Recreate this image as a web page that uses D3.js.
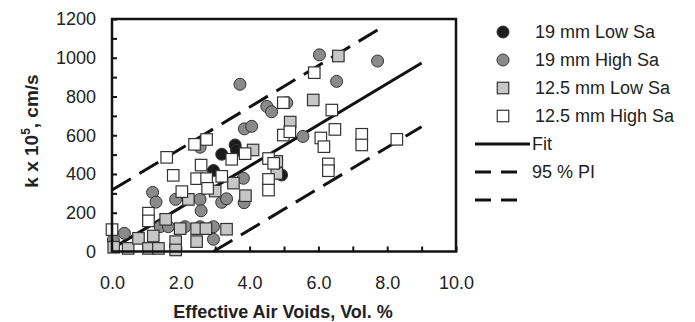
<!DOCTYPE html>
<html>
<head>
<meta charset="utf-8">
<script src="https://cdn.jsdelivr.net/npm/d3@7"></script>
<style>
  body { margin: 0; background: #fff; }
  svg { display: block; font-family: Arial, "Liberation Sans", sans-serif; }
  .tick text { font-size: 18px; fill: #222; }
</style>
</head>
<body>
<svg width="695" height="322"></svg>
<script>
// [air voids %, k x 1e5 cm/s]
const low19 = [[3.58,550],[3.62,522],[3.19,502],[4.93,395],[2.95,418]];
const high19 = [[0.04,59],[0.36,94],[1.18,305],[1.28,255],[1.4,128],[1.64,128],[1.85,269],[2.12,128],
  [2.56,269],[2.59,210],[2.56,128],[2.56,538],[2.95,128],[2.95,63],[3.19,254],[3.33,272],
  [3.72,863],[3.82,378],[3.84,252],[3.85,633],[4.06,646],[4.5,749],[4.64,721],[5.08,768],
  [5.55,594],[6.03,1015],[6.53,878],[7.72,983]];
const low125 = [[0.05,22],[0.47,16],[0.77,68],[1.06,16],[1.2,80],[1.35,16],[1.56,166],[1.85,51],
  [1.85,8],[1.98,118],[2.22,269],[2.46,118],[2.46,51],[2.73,118],[3.0,312],[3.33,115],
  [3.53,353],[3.88,288],[4.1,524],[4.79,465],[4.79,403],[5.18,668],[5.85,782],[6.58,1009]];
const high125 = [[0.0,113],[1.06,198],[1.06,158],[1.59,486],[1.78,393],[2.03,309],[2.4,553],
  [2.46,376],[2.59,446],[2.75,578],[2.75,376],[2.78,326],[3.19,388],[3.48,476],[3.87,505],
  [4.55,480],[4.7,455],[4.55,372],[4.55,317],[4.98,768],[4.98,601],[5.17,618],[5.88,923],
  [6.07,586],[6.16,541],[6.29,452],[6.29,417],[6.39,730],[6.48,630],[7.26,605],[7.26,550],
  [8.28,579]];

const fitLine = [[0,15],[9,973]];
const upperPI = [[0,317],[7.95,1168]];
const lowerPI = [[2.95,0],[9,644]];

const xTicks = d3.range(0, 10.01, 1);
const yTicks = d3.range(0, 1201, 100);

const svg = d3.select("svg");
const x = d3.scaleLinear().domain([0, 10]).range([112, 456]);
const y = d3.scaleLinear().domain([0, 1200]).range([251.5, 19]);

// axes, ticks inside
const yAxis = d3.axisLeft(y).tickValues(yTicks).tickSizeInner(-5).tickSizeOuter(0).tickPadding(16)
  .tickFormat(d => d % 200 === 0 ? d : "");
const xAxis = d3.axisBottom(x).tickValues(xTicks).tickSizeInner(-5).tickSizeOuter(0).tickPadding(25)
  .tickFormat(d => d % 2 === 0 ? d3.format(".1f")(d) : "");

const gy = svg.append("g").attr("transform", "translate(112,0)").call(yAxis);
const gx = svg.append("g").attr("transform", "translate(0,251.5)").call(xAxis);
gy.select(".domain").remove();
gx.select(".domain").remove();
svg.selectAll(".tick line").attr("stroke", "#111").attr("stroke-width", 2);

const line = d3.line().x(d => x(d[0])).y(d => y(d[1]));

svg.append("path").datum(fitLine).attr("d", line)
  .attr("fill", "none").attr("stroke", "#111").attr("stroke-width", 3);
[upperPI, lowerPI].forEach(l => {
  svg.append("path").datum(l).attr("d", line)
    .attr("fill", "none").attr("stroke", "#111").attr("stroke-width", 3)
    .attr("stroke-dasharray", "22,10");
});

const r = 6, s = 11.5;
function circles(data, fill) {
  svg.append("g").selectAll("circle").data(data).join("circle")
    .attr("cx", d => x(d[0])).attr("cy", d => y(d[1])).attr("r", r)
    .attr("fill", fill).attr("stroke", "#333").attr("stroke-width", 1);
}
function squares(data, fill) {
  svg.append("g").selectAll("rect").data(data).join("rect")
    .attr("x", d => x(d[0]) - s / 2).attr("y", d => y(d[1]) - s / 2)
    .attr("width", s).attr("height", s)
    .attr("fill", fill).attr("stroke", "#333").attr("stroke-width", 1.2);
}
circles(low19, "#1c1c1c");
circles(high19, "#8a8a8a");
squares(low125, "#c6c6c6");
squares(high125, "#ffffff");

// plot box
svg.append("rect").attr("x", x(0)).attr("y", y(1200))
  .attr("width", x(10) - x(0)).attr("height", y(0) - y(1200))
  .attr("fill", "none").attr("stroke", "#111").attr("stroke-width", 2.5);

// axis titles
svg.append("text").attr("transform", "translate(38,131) rotate(-90)")
  .attr("text-anchor", "middle").attr("font-size", 19).attr("font-weight", "bold").attr("fill", "#222")
  .call(t => {
    t.append("tspan").text("k x 10");
    t.append("tspan").attr("font-size", 12).attr("dy", -8).text("5");
    t.append("tspan").attr("dy", 8).text(", cm/s");
  });
svg.append("text").attr("x", 283).attr("y", 318).attr("text-anchor", "middle")
  .attr("font-size", 18).attr("font-weight", "bold").attr("fill", "#222")
  .text("Effective Air Voids, Vol. %");

// legend
const legendItems = [
  { label: "19 mm Low Sa", kind: "circle", fill: "#1c1c1c" },
  { label: "19 mm High Sa", kind: "circle", fill: "#8a8a8a" },
  { label: "12.5 mm Low Sa", kind: "square", fill: "#c6c6c6" },
  { label: "12.5 mm High Sa", kind: "square", fill: "#ffffff" },
  { label: "Fit", kind: "line" },
  { label: "95 % PI", kind: "dash" },
  { label: "", kind: "dash" }
];
const lg = svg.append("g");
legendItems.forEach((it, i) => {
  const yy = 32 + i * 28;
  if (it.kind === "circle") {
    lg.append("circle").attr("cx", 503).attr("cy", yy).attr("r", r)
      .attr("fill", it.fill).attr("stroke", "#333");
  } else if (it.kind === "square") {
    lg.append("rect").attr("x", 503 - s / 2).attr("y", yy - s / 2).attr("width", s).attr("height", s)
      .attr("fill", it.fill).attr("stroke", "#333").attr("stroke-width", 1.2);
  } else {
    lg.append("line").attr("x1", 475).attr("x2", it.kind === "dash" ? 521 : 530).attr("y1", yy).attr("y2", yy)
      .attr("stroke", "#111").attr("stroke-width", 3)
      .attr("stroke-dasharray", it.kind === "dash" ? "16,10" : null);
  }
  lg.append("text").attr("x", it.kind === "line" || it.kind === "dash" ? 532 : 535).attr("y", yy)
    .attr("dy", "0.35em").attr("font-size", 18).attr("fill", "#222").text(it.label);
});
</script>
</body>
</html>
